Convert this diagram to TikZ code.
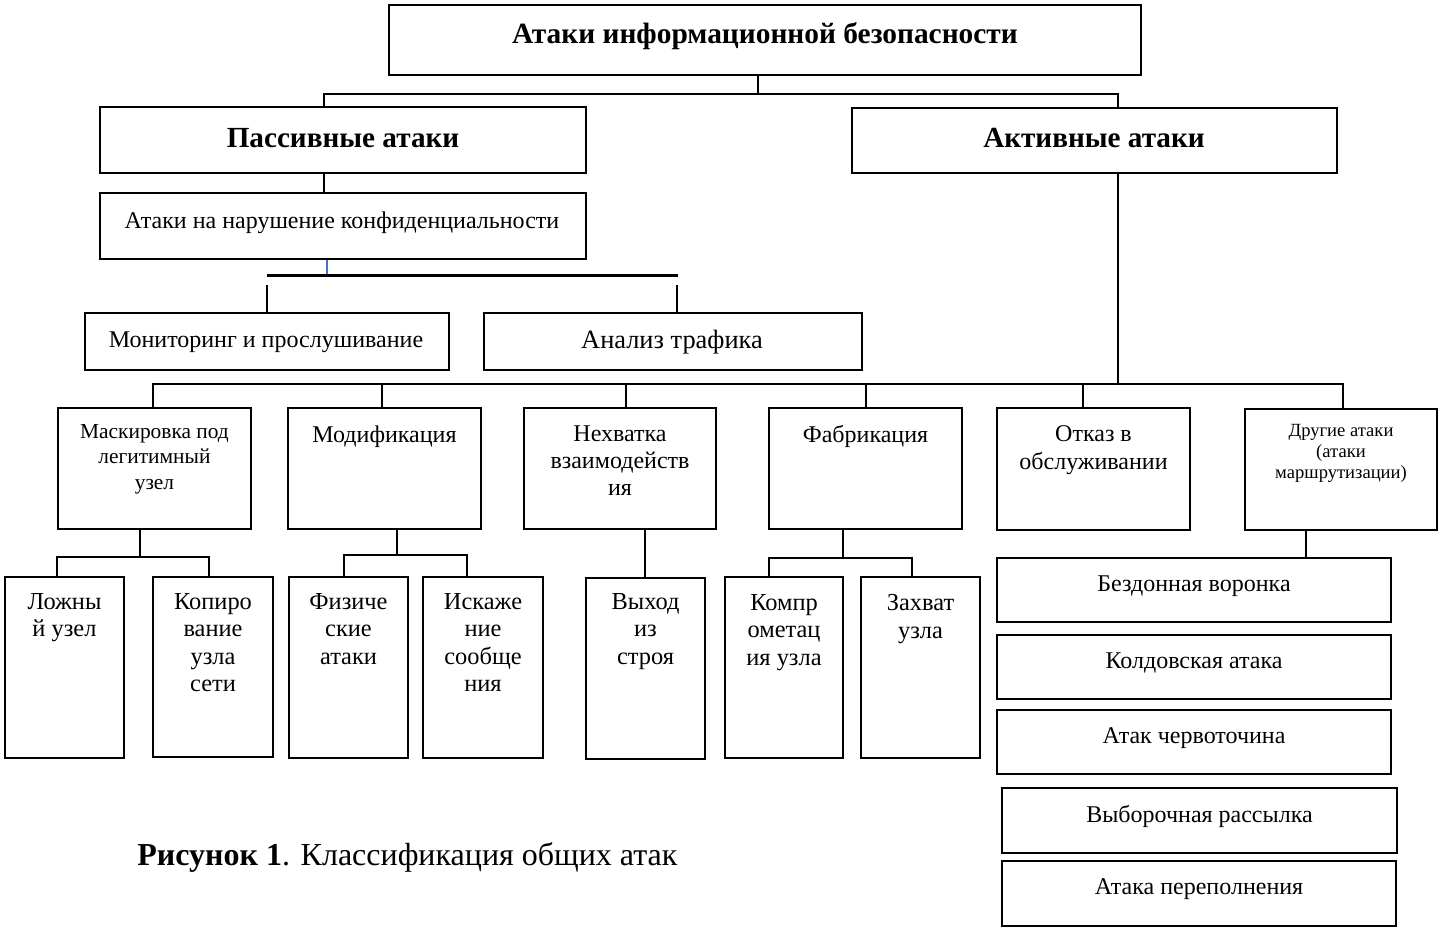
\documentclass[tikz,border=0pt]{standalone}
\usepackage{fontspec}
\setmainfont{Liberation Serif}
\usetikzlibrary{fit}
\newcommand{\setfs}[2]{\fontsize{#1}{#2}\selectfont}
\definecolor{linkblue}{RGB}{68,114,196}
\begin{document}
\begin{tikzpicture}[x=0.5pt, y=-0.5pt,
    box/.style={draw, line width=1pt, inner sep=0pt},
    link/.style={line width=0.75pt},
    lbl/.style={inner sep=0pt, align=center},
    mid/.style={lbl, font=\setfs{12}{13.5}},
    leaf/.style={lbl, font=\setfs{12.2}{13.75}},
    stack/.style={lbl, anchor=base, font=\setfs{12}{13}}]
    \useasboundingbox (0,0) rectangle (1439,927);

    % Top levels
    \node[box, fit={(389,5) (1141,75)}] (top) {};
    \node[lbl, anchor=base, font=\bfseries\setfs{14.7}{16}] (top-t) at (765,43) {Атаки информационной безопасности};
    \node[box, fit={(100,107) (586,173)}] (passive) {};
    \node[lbl, anchor=base, font=\bfseries\setfs{14.6}{16}] (passive-t) at (343,147) {Пассивные атаки};
    \node[box, fit={(852,108) (1337,173)}] (active) {};
    \node[lbl, anchor=base, font=\bfseries\setfs{14.6}{16}] (active-t) at (1094,147) {Активные атаки};

    % Passive branch
    \node[box, fit={(100,193) (586,259)}] (conf) {};
    \node[lbl, anchor=base, font=\setfs{12}{13}] (conf-t) at (342,228) {Атаки на нарушение конфиденциальности};
    \node[box, fit={(85,313) (449,370)}] (mon) {};
    \node[lbl, anchor=base, font=\setfs{12}{13}] (mon-t) at (266,347) {Мониторинг и прослушивание};
    \node[box, fit={(484,313) (862,370)}] (traf) {};
    \node[lbl, anchor=base, font=\setfs{13.2}{14}] (traf-t) at (672,348) {Анализ трафика};

    % Active branch, second level
    \node[box, fit={(58,408) (251,529)}] (mask) {};
    \node[lbl, anchor=north, font=\setfs{10.7}{12.75}] (mask-t) at (mask.north |- 0,424) {Маскировка под\\легитимный\\узел};
    \node[box, fit={(288,408) (481,529)}] (modif) {};
    \node[mid, anchor=base] (modif-t) at (modif.north |- 0,442) {Модификация};
    \node[box, fit={(524,408) (716,529)}] (inter) {};
    \node[mid, anchor=north] (inter-t) at (inter.north |- 0,425) {Нехватка\\взаимодейств\\ия};
    \node[box, fit={(769,408) (962,529)}] (fab) {};
    \node[mid, anchor=base] (fab-t) at (fab.north |- 0,442) {Фабрикация};
    \node[box, fit={(997,408) (1190,530)}] (dos) {};
    \node[lbl, anchor=north, font=\setfs{12}{14}] (dos-t) at (dos.north |- 0,425) {Отказ в\\обслуживании};
    \node[box, fit={(1245,409) (1437,530)}] (other) {};
    \node[lbl, anchor=north, font=\setfs{9.3}{10.5}] (other-t) at (other.north |- 0,424) {Другие атаки\\(атаки\\маршрутизации)};

    % Leaves
    \node[box, fit={(5,577) (124,758)}] (fake) {};
    \node[leaf, anchor=north] (fake-t) at (fake.north |- 0,593) {Ложны\\й узел};
    \node[box, fit={(153,577) (273,757)}] (copy) {};
    \node[leaf, anchor=north] (copy-t) at (copy.north |- 0,593) {Копиро\\вание\\узла\\сети};
    \node[box, fit={(289,577) (408,758)}] (phys) {};
    \node[leaf, anchor=north] (phys-t) at (phys.north |- 0,593) {Физиче\\ские\\атаки};
    \node[box, fit={(423,577) (543,758)}] (dist) {};
    \node[leaf, anchor=north] (dist-t) at (dist.north |- 0,593) {Искаже\\ние\\сообще\\ния};
    \node[box, fit={(586,578) (705,759)}] (exit) {};
    \node[leaf, anchor=north] (exit-t) at (exit.north |- 0,593) {Выход\\из\\строя};
    \node[box, fit={(725,577) (843,758)}] (comp) {};
    \node[leaf, anchor=north] (comp-t) at (comp.north |- 0,594) {Компр\\ометац\\ия узла};
    \node[box, fit={(861,577) (980,758)}] (capt) {};
    \node[leaf, anchor=north] (capt-t) at (capt.north |- 0,594) {Захват\\узла};

    % Routing attacks
    \node[box, fit={(997,558) (1391,622)}] (sink) {};
    \node[stack] (sink-t) at (sink.north |- 0,591) {Бездонная воронка};
    \node[box, fit={(997,635) (1391,699)}] (sorc) {};
    \node[stack] (sorc-t) at (sorc.north |- 0,668) {Колдовская атака};
    \node[box, fit={(997,710) (1391,774)}] (worm) {};
    \node[stack] (worm-t) at (worm.north |- 0,743) {Атак червоточина};
    \node[box, fit={(1002,788) (1397,853)}] (selfw) {};
    \node[stack] (selfw-t) at (selfw.north |- 0,822) {Выборочная рассылка};
    \node[box, fit={(1002,861) (1396,926)}] (flood) {};
    \node[stack] (flood-t) at (flood.north |- 0,894) {Атака переполнения};

    % Caption
    \node[lbl, anchor=base west, font=\setfs{16}{18}] (caption) at (137,865) {\textbf{Рисунок 1}. Классификация общих атак};

    % Connectors
    \draw[link] (758,0 |- top.south) -- (758,94);
    \draw[link] (324,0 |- passive.north) |- (1118,94) -- (1118,0 |- active.north);
    \draw[link] (324,0 |- passive.south) -- (324,0 |- conf.north);
    \draw[line width=0.6pt, linkblue] (327,0 |- conf.south) -- (327,274);
    \draw[line width=1.5pt] (267,275) -- (678,275);
    \draw[link] (267,285) -- (267,0 |- mon.north);
    \draw[link] (677,285) -- (677,0 |- traf.north);
    \draw[link] (1118,0 |- active.south) -- (1118,384);
    \draw[link] (153,0 |- mask.north) |- (1343,384) -- (1343,0 |- other.north);
    \foreach \x/\n in {382/modif, 626/inter, 866/fab, 1083/dos}
        \draw[link] (\x,384) -- (\x,0 |- \n.north);
    \draw[link] (140,0 |- mask.south) -- (140,557);
    \draw[link] (57,0 |- fake.north) |- (209,557) -- (209,0 |- copy.north);
    \draw[link] (397,0 |- modif.south) -- (397,555);
    \draw[link] (344,0 |- phys.north) |- (467,555) -- (467,0 |- dist.north);
    \draw[link] (645,0 |- inter.south) -- (645,0 |- exit.north);
    \draw[link] (843,0 |- fab.south) -- (843,558);
    \draw[link] (769,0 |- comp.north) |- (912,558) -- (912,0 |- capt.north);
    \draw[link] (1306,0 |- other.south) -- (1306,0 |- sink.north);
\end{tikzpicture}
\end{document}
